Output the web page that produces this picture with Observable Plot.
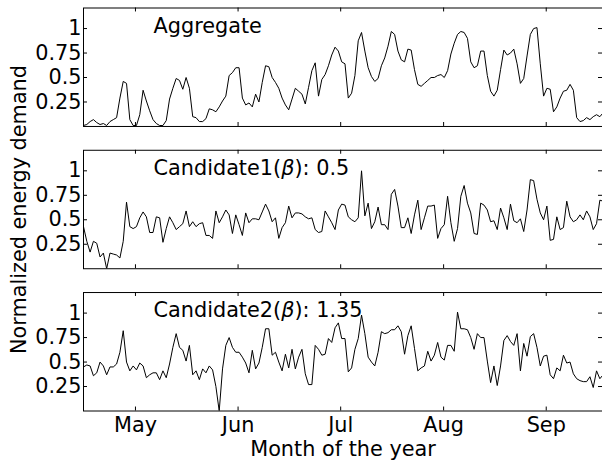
<!DOCTYPE html>
<html><head><meta charset="utf-8">
<script src="https://cdn.jsdelivr.net/npm/d3@7"></script>
<script src="https://cdn.jsdelivr.net/npm/@observablehq/plot@0.6"></script>
<style>body{margin:0;background:#fff;} svg{display:block}</style>
</head><body><div id="chart"></div>
<script>
const panels = ["Aggregate", "Candidate1", "Candidate2"];
const panelLabels = ["Aggregate", "Candidate1(β): 0.5", "Candidate2(β): 1.35"];
const yAxisTitle = "Normalized energy demand";
const xAxisTitle = "Month of the year";

// daily values, day 0 = mid April
const aggregate = [
0.01,0.02,0.05,0.07,0.04,0.02,0.03,0.01,0.05,0.07,
0.09,0.29,0.46,0.44,0.07,0.01,0.01,0.12,0.37,0.26,
0.16,0.07,0.03,0.01,0.01,0.06,0.28,0.39,0.49,0.47,
0.38,0.50,0.39,0.10,0.09,0.05,0.05,0.08,0.18,0.17,
0.15,0.20,0.26,0.31,0.52,0.55,0.60,0.60,0.29,0.22,
0.24,0.20,0.33,0.25,0.45,0.62,0.61,0.50,0.45,0.39,
0.29,0.22,0.17,0.28,0.39,0.36,0.33,0.23,0.40,0.57,
0.65,0.31,0.48,0.53,0.62,0.73,0.81,0.77,0.66,0.64,
0.29,0.34,0.52,0.875,0.96,0.77,0.60,0.51,0.46,0.49,
0.62,0.70,0.82,0.97,0.94,0.77,0.68,0.66,0.79,0.78,
0.58,0.43,0.41,0.44,0.47,0.50,0.50,0.52,0.53,0.50,
0.57,0.74,0.85,0.94,0.97,0.96,0.90,0.66,0.60,0.62,
0.77,0.77,0.52,0.36,0.31,0.37,0.58,0.78,0.73,0.75,
0.79,0.64,0.44,0.49,0.72,0.94,1.00,1.01,0.64,0.31,
0.39,0.38,0.15,0.20,0.29,0.36,0.37,0.43,0.37,0.09,
0.05,0.06,0.09,0.07,0.10,0.12,0.10,0.14];

const candidate1 = [
0.43,0.28,0.17,0.28,0.26,0.12,0.16,0.00,0.16,0.15,
0.14,0.11,0.28,0.68,0.43,0.41,0.43,0.52,0.58,0.53,
0.37,0.37,0.53,0.52,0.27,0.41,0.53,0.47,0.40,0.43,
0.46,0.59,0.43,0.48,0.43,0.46,0.47,0.34,0.34,0.31,
0.59,0.47,0.53,0.60,0.55,0.36,0.55,0.45,0.34,0.57,
0.47,0.51,0.51,0.50,0.58,0.66,0.59,0.48,0.52,0.31,
0.42,0.47,0.64,0.52,0.57,0.57,0.56,0.53,0.51,0.52,
0.40,0.37,0.38,0.59,0.53,0.47,0.40,0.60,0.66,0.65,
0.53,0.50,0.48,0.52,1.00,0.54,0.67,0.41,0.48,0.63,
0.45,0.45,0.40,0.76,0.81,0.64,0.42,0.42,0.52,0.36,
0.55,0.70,0.40,0.52,0.64,0.64,0.65,0.31,0.41,0.45,
0.74,0.47,0.28,0.41,0.74,0.85,0.67,0.57,0.36,0.35,
0.67,0.65,0.60,0.48,0.49,0.40,0.62,0.52,0.40,0.66,
0.49,0.47,0.51,0.38,0.60,0.91,0.90,0.71,0.57,0.50,
0.64,0.29,0.30,0.53,0.40,0.42,0.69,0.53,0.48,0.50,
0.55,0.50,0.59,0.53,0.40,0.46,0.70,0.69];

const candidate2 = [
0.45,0.47,0.46,0.36,0.39,0.50,0.46,0.37,0.45,0.45,
0.48,0.60,0.82,0.50,0.41,0.46,0.42,0.49,0.46,0.34,
0.37,0.39,0.39,0.32,0.41,0.34,0.48,0.65,0.79,0.65,
0.62,0.51,0.67,0.37,0.41,0.32,0.43,0.39,0.46,0.42,
0.25,0.00,0.43,0.67,0.75,0.65,0.60,0.60,0.55,0.49,
0.39,0.62,0.43,0.49,0.65,0.84,0.84,0.57,0.60,0.50,
0.41,0.58,0.44,0.63,0.43,0.55,0.63,0.38,0.27,0.27,
0.67,0.63,0.57,0.58,0.74,0.70,0.85,0.90,0.74,0.74,
0.40,0.44,0.63,0.74,0.98,0.79,0.55,0.50,0.46,0.60,
0.81,0.79,0.80,0.83,0.83,0.87,0.81,0.58,0.77,0.87,
0.64,0.41,0.44,0.46,0.61,0.51,0.57,0.70,0.55,0.52,
0.67,0.67,0.61,1.01,0.84,0.84,0.83,0.75,0.63,0.79,
0.75,0.75,0.51,0.29,0.46,0.26,0.46,0.72,0.77,0.71,
0.67,0.79,0.41,0.69,0.56,0.76,0.79,0.65,0.46,0.56,
0.57,0.37,0.33,0.44,0.41,0.57,0.49,0.50,0.38,0.33,
0.31,0.30,0.30,0.35,0.24,0.41,0.33,0.37];

const monthTicks = [15.7, 46.7, 77.7, 108.8, 139.8];
const monthLabels = ["May", "Jun", "Jul", "Aug", "Sep"];
const yTicks = [0.25, 0.5, 0.75, 1];
const yTickLabels = ["0.25", "0.5", "0.75", "1"];

const series = [aggregate, candidate1, candidate2];
const rows = series.flatMap((vals, k) => vals.map((v, i) => ({panel: panels[k], day: i, value: v})));

const chart = Plot.plot({
  width: 602, height: 464,
  marginLeft: 83, marginRight: 0, marginTop: 7.5, marginBottom: 53.5,
  style: {fontFamily: "DejaVu Sans", fontSize: "20.8px", color: "black", background: "white"},
  x: {type: "linear", domain: [0, 156.8], axis: null},
  y: {domain: [0, 1.21], axis: null},
  fy: {domain: panels, paddingInner: 0.1673, paddingOuter: 0, axis: null, round: false},
  marks: [
    Plot.line(rows, {x: "day", y: "value", fy: "panel", stroke: "black", strokeWidth: 1, clip: true}),
    Plot.frame({stroke: "black", strokeWidth: 1}),
    Plot.tickX(monthTicks, {x: d => d, insetTop: 114.5, stroke: "black"}),
    Plot.tickX(monthTicks, {x: d => d, insetBottom: 114.5, stroke: "black"}),
    Plot.tickY(yTicks, {y: d => d, insetRight: 515, stroke: "black"}),
    Plot.tickY(yTicks, {y: d => d, insetLeft: 515, stroke: "black"}),
    Plot.axisY({ticks: yTicks, tickFormat: d => yTickLabels[yTicks.indexOf(d)], tickSize: 0, tickPadding: 2, label: null}),
    Plot.axisX({ticks: monthTicks, tickFormat: d => monthLabels[monthTicks.indexOf(d)], tickSize: 0, tickPadding: 6.5, label: null}),
    Plot.text(panels, {fy: d => d, text: (d, i) => panelLabels[i], frameAnchor: "top-left", dx: 70, dy: 24.8, lineAnchor: "bottom", textAnchor: "start"}),
    Plot.text([{panel: "Candidate1", label: yAxisTitle}], {fy: "panel", text: "label", frameAnchor: "left", rotate: -90, dx: -58, lineAnchor: "bottom", textAnchor: "middle"}),
    Plot.text([{panel: "Candidate2", label: xAxisTitle}], {fy: "panel", text: "label", frameAnchor: "bottom", dy: 45, lineAnchor: "bottom", textAnchor: "middle"})
  ]
});

// italic beta as in mathtext
const ns = "http://www.w3.org/2000/svg";
chart.querySelectorAll("text").forEach(t => {
  if (t.textContent.includes("β")) {
    const parts = t.textContent.split("β");
    t.textContent = "";
    parts.forEach((p, i) => {
      if (i > 0) {
        const ts = document.createElementNS(ns, "tspan");
        ts.setAttribute("font-style", "italic");
        ts.textContent = "β";
        t.appendChild(ts);
      }
      t.appendChild(document.createTextNode(p));
    });
  }
});
document.getElementById("chart").appendChild(chart);
</script>
</body></html>
